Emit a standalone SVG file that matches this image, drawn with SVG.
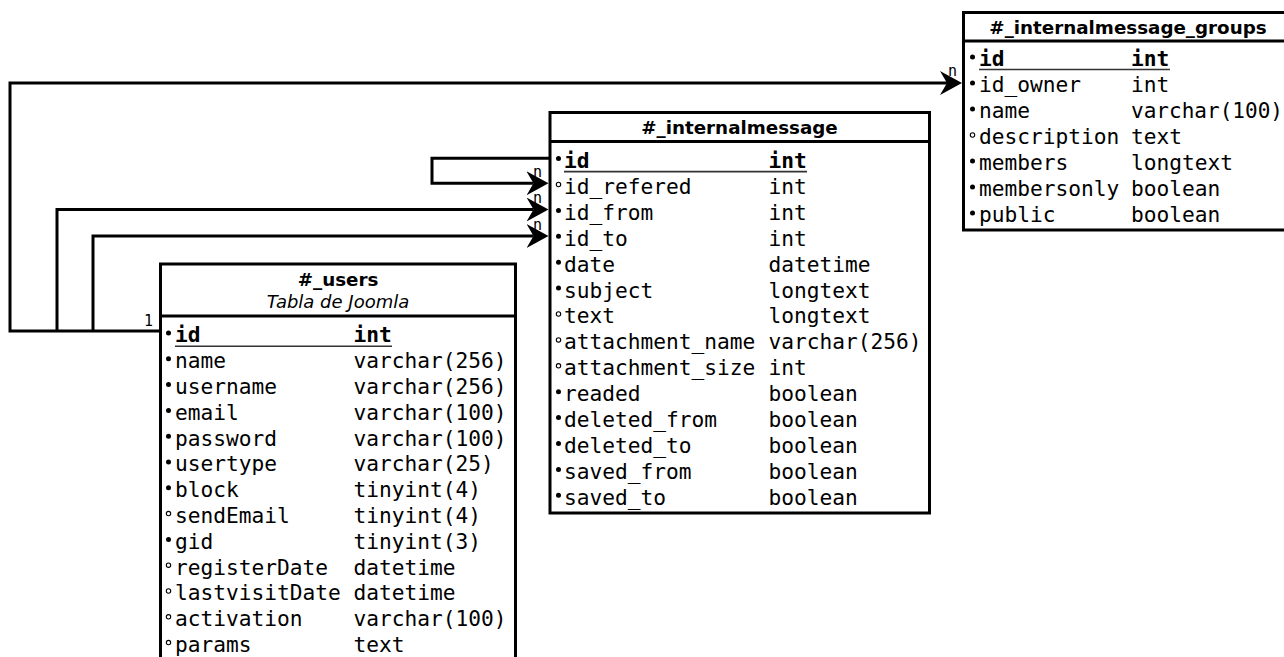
<svg xmlns="http://www.w3.org/2000/svg" width="1284" height="657" viewBox="0 0 1284 657">
<style>
.box{fill:#fff;stroke:#000;stroke-width:3}
.div{stroke:#000;stroke-width:3}
.ttl{font-family:"DejaVu Sans",sans-serif;font-weight:bold;font-size:18.3px;text-anchor:middle;fill:#000}
.sub{font-family:"DejaVu Sans",sans-serif;font-style:italic;font-size:18px;text-anchor:middle;fill:#000}
.f{font-family:"DejaVu Sans Mono",monospace;font-size:21.2px;fill:#000}
.k{font-family:"DejaVu Sans Mono",monospace;font-size:21.2px;font-weight:bold;fill:#000}
.ul{stroke:#333;stroke-width:1.6}
.bf{fill:#000}
.bo{fill:none;stroke:#000;stroke-width:1.1}
.con{fill:none;stroke:#000;stroke-width:3}
.lbl{font-family:"DejaVu Sans Mono",monospace;font-size:15px;fill:#000}
</style>
<defs>
<marker id="arr" viewBox="0 0 22 24" refX="7" refY="12" markerWidth="22" markerHeight="24" markerUnits="userSpaceOnUse" orient="auto">
<path d="M0,0 L22,12 L0,24 L7,12 Z" fill="#000"/>
</marker>
</defs>

<g id="connectors">
<path class="con" d="M160,331 H10 V83 H947" marker-end="url(#arr)"/>
<path class="con" d="M57,331 V209.5 H533.5" marker-end="url(#arr)"/>
<path class="con" d="M93,331 V236 H533.5" marker-end="url(#arr)"/>
<path class="con" d="M550,158.3 H432 V183.3 H533.5" marker-end="url(#arr)"/>
<text class="lbl" x="144" y="326">1</text>
<text class="lbl" x="948" y="76">n</text>
<text class="lbl" x="533" y="177">n</text>
<text class="lbl" x="533" y="203">n</text>
<text class="lbl" x="533" y="229.5">n</text>
<text class="lbl" x="555" y="178">1</text>
</g>

<g id="users">
<rect class="box" x="160.5" y="264" width="355" height="410"/>
<line class="div" x1="160.5" y1="316" x2="515.5" y2="316"/>
<text class="ttl" x="338" y="286">#_users</text>
<text class="sub" x="338" y="308">Tabla de Joomla</text>
<circle class="bf" cx="168.5" cy="333" r="2.5"/><text class="k" x="175" y="342.4">id</text><text class="k" x="353.5" y="342.4">int</text>
<line class="ul" x1="175" y1="346.2" x2="392" y2="346.2"/>
<circle class="bf" cx="168.5" cy="358.8" r="2.5"/><text class="f" x="175" y="368.2">name</text><text class="f" x="353.5" y="368.2">varchar(256)</text>
<circle class="bf" cx="168.5" cy="384.6" r="2.5"/><text class="f" x="175" y="394">username</text><text class="f" x="353.5" y="394">varchar(256)</text>
<circle class="bf" cx="168.5" cy="410.4" r="2.5"/><text class="f" x="175" y="419.8">email</text><text class="f" x="353.5" y="419.8">varchar(100)</text>
<circle class="bf" cx="168.5" cy="436.2" r="2.5"/><text class="f" x="175" y="445.6">password</text><text class="f" x="353.5" y="445.6">varchar(100)</text>
<circle class="bf" cx="168.5" cy="462" r="2.5"/><text class="f" x="175" y="471.4">usertype</text><text class="f" x="353.5" y="471.4">varchar(25)</text>
<circle class="bf" cx="168.5" cy="487.8" r="2.5"/><text class="f" x="175" y="497.2">block</text><text class="f" x="353.5" y="497.2">tinyint(4)</text>
<circle class="bo" cx="168.5" cy="513.6" r="2.2"/><text class="f" x="175" y="523">sendEmail</text><text class="f" x="353.5" y="523">tinyint(4)</text>
<circle class="bf" cx="168.5" cy="539.4" r="2.5"/><text class="f" x="175" y="548.8">gid</text><text class="f" x="353.5" y="548.8">tinyint(3)</text>
<circle class="bo" cx="168.5" cy="565.2" r="2.2"/><text class="f" x="175" y="574.6">registerDate</text><text class="f" x="353.5" y="574.6">datetime</text>
<circle class="bo" cx="168.5" cy="591" r="2.2"/><text class="f" x="175" y="600.4">lastvisitDate</text><text class="f" x="353.5" y="600.4">datetime</text>
<circle class="bo" cx="168.5" cy="616.8" r="2.2"/><text class="f" x="175" y="626.2">activation</text><text class="f" x="353.5" y="626.2">varchar(100)</text>
<circle class="bo" cx="168.5" cy="642.6" r="2.2"/><text class="f" x="175" y="652">params</text><text class="f" x="353.5" y="652">text</text>
</g>

<g id="internalmessage">
<rect class="box" x="550" y="112.5" width="379.5" height="400.5"/>
<line class="div" x1="550" y1="141.5" x2="929.5" y2="141.5"/>
<text class="ttl" x="739.5" y="134">#_internalmessage</text>
<circle class="bf" cx="558.5" cy="158.6" r="2.5"/><text class="k" x="564" y="168">id</text><text class="k" x="768.5" y="168">int</text>
<line class="ul" x1="564" y1="171.6" x2="807" y2="171.6"/>
<circle class="bo" cx="558.5" cy="184.5" r="2.2"/><text class="f" x="564" y="193.9">id_refered</text><text class="f" x="768.5" y="193.9">int</text>
<circle class="bf" cx="558.5" cy="210.4" r="2.5"/><text class="f" x="564" y="219.8">id_from</text><text class="f" x="768.5" y="219.8">int</text>
<circle class="bf" cx="558.5" cy="236.3" r="2.5"/><text class="f" x="564" y="245.7">id_to</text><text class="f" x="768.5" y="245.7">int</text>
<circle class="bf" cx="558.5" cy="262.2" r="2.5"/><text class="f" x="564" y="271.6">date</text><text class="f" x="768.5" y="271.6">datetime</text>
<circle class="bf" cx="558.5" cy="288.1" r="2.5"/><text class="f" x="564" y="297.5">subject</text><text class="f" x="768.5" y="297.5">longtext</text>
<circle class="bo" cx="558.5" cy="314" r="2.2"/><text class="f" x="564" y="323.4">text</text><text class="f" x="768.5" y="323.4">longtext</text>
<circle class="bo" cx="558.5" cy="339.9" r="2.2"/><text class="f" x="564" y="349.3">attachment_name</text><text class="f" x="768.5" y="349.3">varchar(256)</text>
<circle class="bo" cx="558.5" cy="365.8" r="2.2"/><text class="f" x="564" y="375.2">attachment_size</text><text class="f" x="768.5" y="375.2">int</text>
<circle class="bf" cx="558.5" cy="391.7" r="2.5"/><text class="f" x="564" y="401.1">readed</text><text class="f" x="768.5" y="401.1">boolean</text>
<circle class="bf" cx="558.5" cy="417.6" r="2.5"/><text class="f" x="564" y="427">deleted_from</text><text class="f" x="768.5" y="427">boolean</text>
<circle class="bf" cx="558.5" cy="443.5" r="2.5"/><text class="f" x="564" y="452.9">deleted_to</text><text class="f" x="768.5" y="452.9">boolean</text>
<circle class="bf" cx="558.5" cy="469.4" r="2.5"/><text class="f" x="564" y="478.8">saved_from</text><text class="f" x="768.5" y="478.8">boolean</text>
<circle class="bf" cx="558.5" cy="495.3" r="2.5"/><text class="f" x="564" y="504.7">saved_to</text><text class="f" x="768.5" y="504.7">boolean</text>
</g>

<g id="internalmessage_groups">
<rect class="box" x="963.5" y="12.5" width="331" height="217.5"/>
<line class="div" x1="963.5" y1="41" x2="1294.5" y2="41"/>
<text class="ttl" x="1128" y="33.5">#_internalmessage_groups</text>
<circle class="bf" cx="972.5" cy="57" r="2.5"/><text class="k" x="979" y="65.7">id</text><text class="k" x="1131" y="65.7">int</text>
<line class="ul" x1="979" y1="69.5" x2="1170" y2="69.5"/>
<circle class="bf" cx="972.5" cy="83" r="2.5"/><text class="f" x="979" y="91.7">id_owner</text><text class="f" x="1131" y="91.7">int</text>
<circle class="bf" cx="972.5" cy="109" r="2.5"/><text class="f" x="979" y="117.7">name</text><text class="f" x="1131" y="117.7" textLength="152" lengthAdjust="spacingAndGlyphs">varchar(100)</text>
<circle class="bo" cx="972.5" cy="135" r="2.2"/><text class="f" x="979" y="143.7">description</text><text class="f" x="1131" y="143.7">text</text>
<circle class="bf" cx="972.5" cy="161" r="2.5"/><text class="f" x="979" y="169.7">members</text><text class="f" x="1131" y="169.7">longtext</text>
<circle class="bf" cx="972.5" cy="187" r="2.5"/><text class="f" x="979" y="195.7">membersonly</text><text class="f" x="1131" y="195.7">boolean</text>
<circle class="bf" cx="972.5" cy="213" r="2.5"/><text class="f" x="979" y="221.7">public</text><text class="f" x="1131" y="221.7">boolean</text>
</g>
</svg>
